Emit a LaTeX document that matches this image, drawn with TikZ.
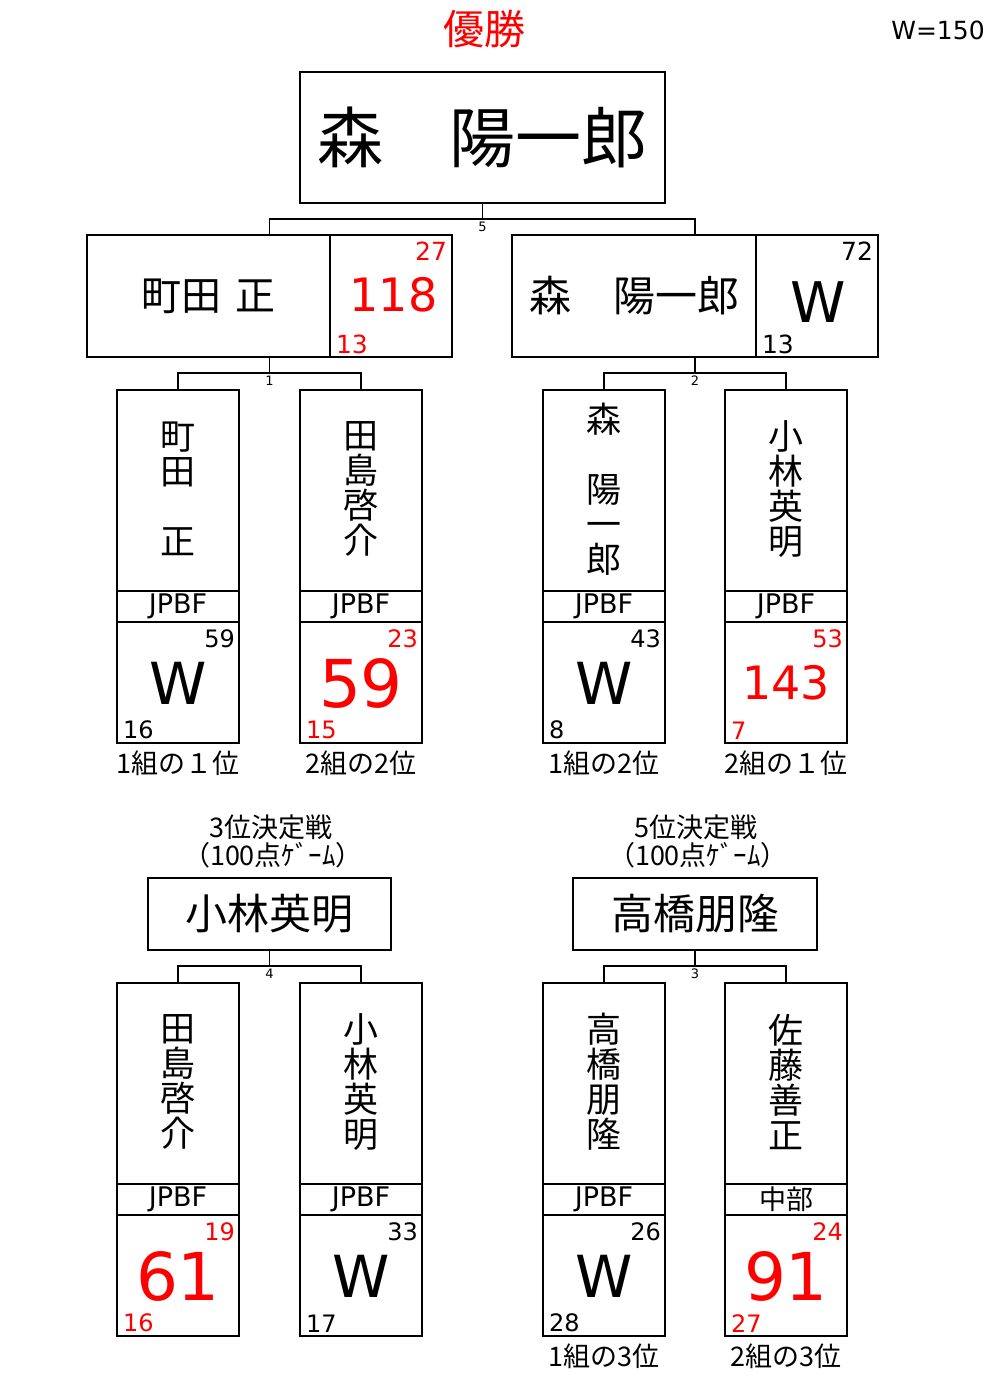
\documentclass[tikz,border=0pt]{standalone}
\usepackage{fontspec}
\setmainfont{Noto Sans CJK JP}
\newfontfamily\lat{DejaVu Sans}
\newcommand\fs[1]{\fontsize{#1}{#1}\selectfont}
\newcommand\qbx[9]{%
  \node[bx,minimum width=122,minimum height=201,anchor=north] (#1) at (#2,#3) {};
  \node[tx,font=\fs{35},align=center] (#1nm) at (#2,#3+99) {#4};
  \node[bx,minimum width=122,minimum height=31,anchor=north] (#1t) at (#1.south) {};
  \node[tx,font=\lat\fs{27}] (#1tt) at (#1t) {#5};
  \node[bx,minimum width=122,minimum height=121,anchor=north] (#1s) at (#1t.south) {};
  \node[tx,text=#9,font=\lat\fs{24},anchor=north east] (#1tr) at ([shift={(57,8)}]#1s.north) {#6};
  \node[tx,text=#9,font=\lat,anchor=center] (#1big) at ([shift={(0,61)}]#1s.north) {#7};
  \node[tx,text=#9,font=\lat\fs{24},anchor=south west] (#1bl) at ([shift={(-55,-4)}]#1s.south) {#8};
}
\begin{document}
\begin{tikzpicture}[x=1pt,y=-1pt,
  ln/.style={line width=1.6pt},
  bx/.style={draw,line width=1.6pt,inner sep=0pt,outer sep=0pt},
  tx/.style={inner sep=0pt,outer sep=0pt},
  lbl/.style={inner sep=0pt,outer sep=0pt,font=\lat\fs{13},anchor=north}]
\useasboundingbox (0,0) rectangle (1000,1377);

% title
\node[tx,text=red,font=\fs{41}] (title) at (484,29) {優勝};
\node[tx,font=\lat\fs{25}] (wv) at (938,30) {W=150};

% champion
\node[bx,minimum width=365,minimum height=131,font=\fs{66}] (champ) at (482.5,137.5) {森　陽一郎};

% semi final left
\node[bx,minimum width=365,minimum height=122] (sL) at (269.5,296) {};
\draw[ln] ([xshift=243pt]sL.north west) -- ([xshift=243pt]sL.south west);
\node[tx,font=\fs{40}] (sLname) at (208.5,296) {町田\hspace{6pt} 正};
\node[tx,text=red,font=\lat\fs{46}] (sLbig) at (393.5,295) {118};
\node[tx,text=red,font=\lat\fs{25},anchor=north east] (sLtr) at (447,242) {27};
\node[tx,text=red,font=\lat\fs{25},anchor=south west] (sLbl) at (336,354) {13};

% semi final right
\node[bx,minimum width=366,minimum height=122] (sR) at (695,296) {};
\draw[ln] ([xshift=244pt]sR.north west) -- ([xshift=244pt]sR.south west);
\node[tx,font=\fs{42}] (sRname) at (634,296) {森　陽一郎};
\node[tx,font=\lat\fs{56}] (sRbig) at (818,302) {W};
\node[tx,font=\lat\fs{25},anchor=north east] (sRtr) at (873,242) {72};
\node[tx,font=\lat\fs{25},anchor=south west] (sRbl) at (762,354) {13};

% connectors to champion
\draw[ln] (champ.south) -- ++(0,16) coordinate (m5) -| (sL.north);
\draw[ln] (m5) -| (sR.north);
\node[lbl] (l5) at ([shift={(0,3)}]m5) {5};

% quarter boxes upper
\qbx{qa}{178}{390}{町\\田\\{}\\正}{JPBF}{59}{\fs{58}W}{16}{black}
\qbx{qb}{361}{390}{田\\島\\啓\\介}{JPBF}{23}{\fs{66}59}{15}{red}
\qbx{qc}{604}{390}{森\\{}\\陽\\一\\郎}{JPBF}{43}{\fs{58}W}{8}{black}
\qbx{qd}{786}{390}{小\\林\\英\\明}{JPBF}{53}{\fs{46}143}{7}{red}

\draw[ln] (sL.south) -- ++(0,16) coordinate (m1) -| (qa.north);
\draw[ln] (m1) -| (qb.north);
\node[lbl] (l1) at ([shift={(0,3)}]m1) {1};
\draw[ln] (sR.south) -- ++(0,16) coordinate (m2) -| (qc.north);
\draw[ln] (m2) -| (qd.north);
\node[lbl] (l2) at ([shift={(0,3)}]m2) {2};

\node[tx,font=\fs{27}] (ra) at ([shift={(0,20)}]qas.south) {1組の１位};
\node[tx,font=\fs{27}] (rb) at ([shift={(0,20)}]qbs.south) {2組の2位};
\node[tx,font=\fs{27}] (rc) at ([shift={(0,20)}]qcs.south) {1組の2位};
\node[tx,font=\fs{27}] (rd) at ([shift={(0,20)}]qds.south) {2組の１位};

% 3rd place
\node[tx,font=\fs{27}] (h3a) at (271,827) {3位決定戦};
\node[tx,font=\fs{27}] (h3b) at (273,855) {（100点ｹﾞｰﾑ）};
\node[bx,minimum width=243,minimum height=72,font=\fs{42}] (tp) at (269.5,914) {小林英明};

% 5th place
\node[tx,font=\fs{27}] (h5a) at (696,827) {5位決定戦};
\node[tx,font=\fs{27}] (h5b) at (698,855) {（100点ｹﾞｰﾑ）};
\node[bx,minimum width=244,minimum height=72,font=\fs{42}] (fp) at (695,914) {高橋朋隆};

% quarter boxes lower
\qbx{qe}{178}{983}{田\\島\\啓\\介}{JPBF}{19}{\fs{66}61}{16}{red}
\qbx{qf}{361}{983}{小\\林\\英\\明}{JPBF}{33}{\fs{58}W}{17}{black}
\qbx{qg}{604}{983}{高\\橋\\朋\\隆}{JPBF}{26}{\fs{58}W}{28}{black}
\qbx{qh}{786}{983}{佐\\藤\\善\\正}{{\rmfamily 中部}}{24}{\fs{66}91}{27}{red}

\draw[ln] (tp.south) -- ++(0,16) coordinate (m4) -| (qe.north);
\draw[ln] (m4) -| (qf.north);
\node[lbl] (l4) at ([shift={(0,3)}]m4) {4};
\draw[ln] (fp.south) -- ++(0,16) coordinate (m3) -| (qg.north);
\draw[ln] (m3) -| (qh.north);
\node[lbl] (l3) at ([shift={(0,3)}]m3) {3};

\node[tx,font=\fs{27}] (rg) at ([shift={(0,20)}]qgs.south) {1組の3位};
\node[tx,font=\fs{27}] (rh) at ([shift={(0,20)}]qhs.south) {2組の3位};
\end{tikzpicture}
\end{document}
